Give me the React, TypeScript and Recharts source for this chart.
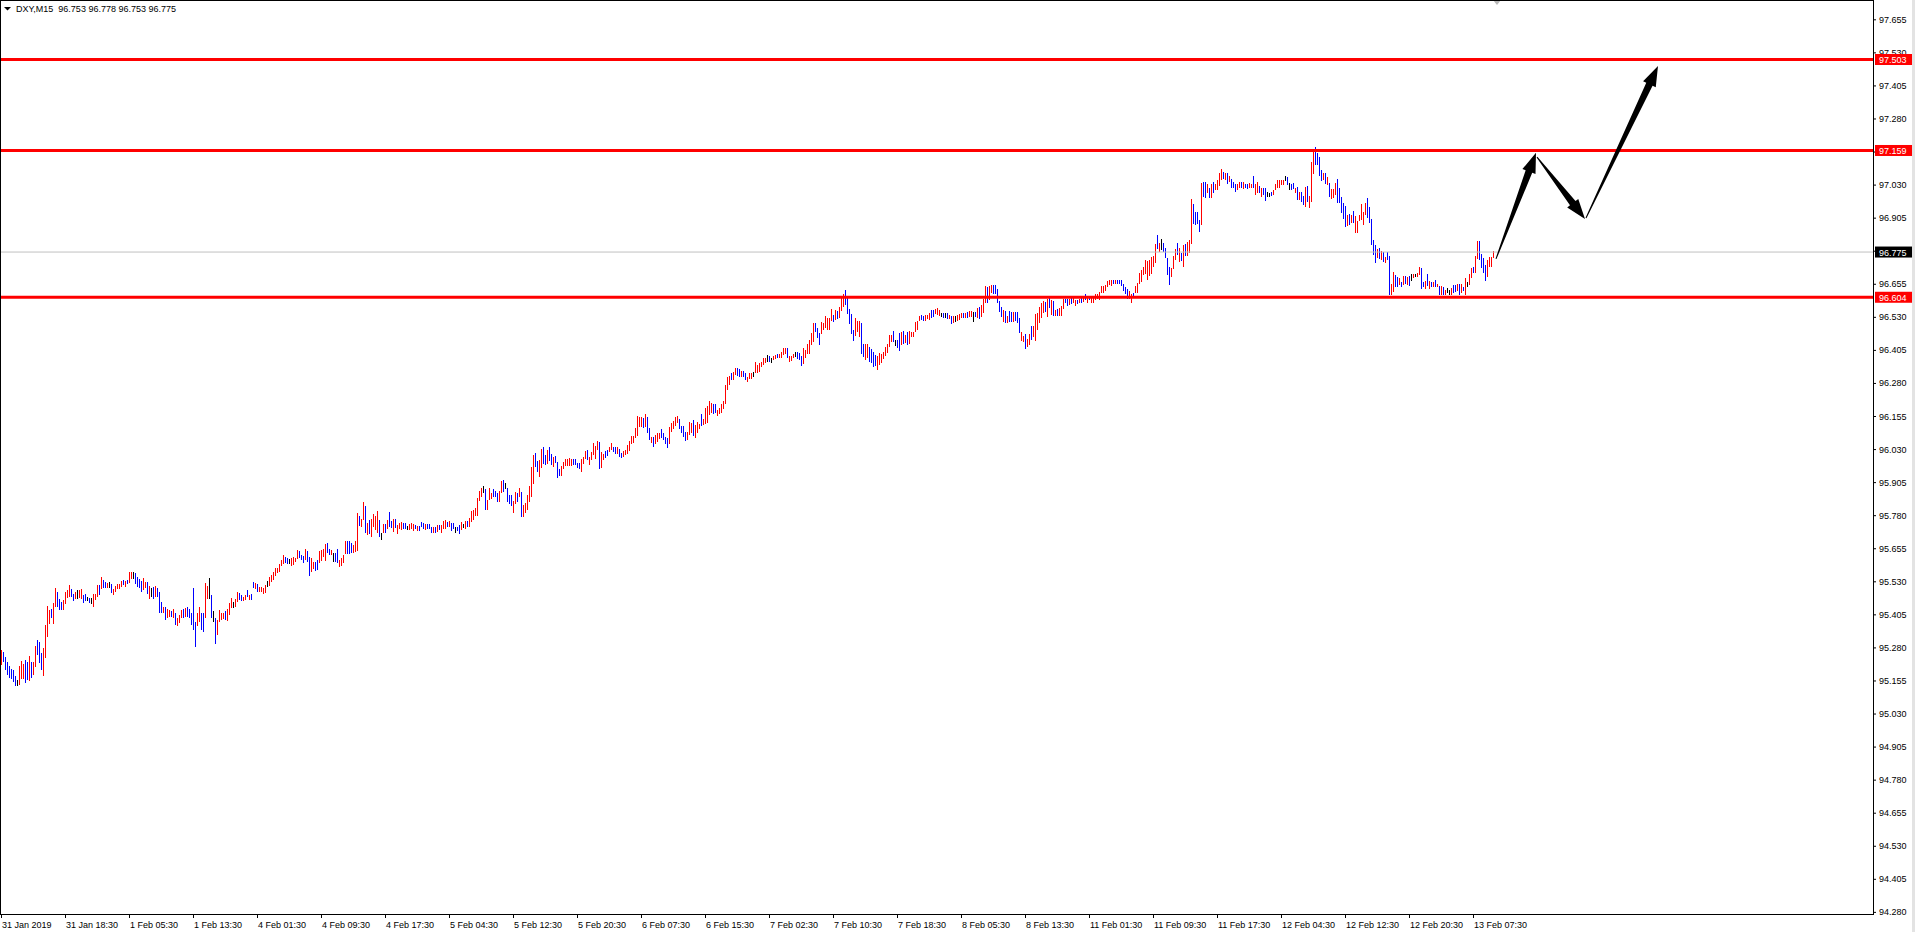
import { Bar, ComposedChart, ReferenceDot, ReferenceLine, XAxis, YAxis } from 'recharts'

// DXY M15, one entry per bar (high / low)
const highs = [
  95.270, 95.263, 95.242, 95.224, 95.210, 95.197, 95.195, 95.172, 95.157, 95.210,
  95.230, 95.217, 95.232, 95.226, 95.248, 95.226, 95.226, 95.285, 95.308, 95.302,
  95.258, 95.277, 95.365, 95.437, 95.421, 95.424, 95.447, 95.505, 95.489, 95.464,
  95.452, 95.459, 95.489, 95.497, 95.516, 95.502, 95.482, 95.488, 95.497, 95.497,
  95.501, 95.478, 95.481, 95.469, 95.466, 95.466, 95.482, 95.482, 95.515, 95.516,
  95.547, 95.535, 95.527, 95.522, 95.526, 95.520, 95.501, 95.512, 95.520, 95.520,
  95.532, 95.535, 95.532, 95.535, 95.565, 95.565, 95.564, 95.560, 95.545, 95.537,
  95.532, 95.544, 95.529, 95.529, 95.512, 95.503, 95.510, 95.512, 95.503, 95.489,
  95.452, 95.434, 95.434, 95.424, 95.421, 95.419, 95.424, 95.409, 95.390, 95.403,
  95.421, 95.426, 95.428, 95.434, 95.424, 95.409, 95.505, 95.377, 95.409, 95.434,
  95.409, 95.409, 95.522, 95.512, 95.542, 95.478, 95.418, 95.390, 95.384, 95.421,
  95.411, 95.409, 95.416, 95.424, 95.447, 95.467, 95.453, 95.462, 95.489, 95.484,
  95.478, 95.472, 95.478, 95.497, 95.478, 95.481, 95.529, 95.525, 95.520, 95.507,
  95.507, 95.505, 95.516, 95.531, 95.545, 95.554, 95.564, 95.580, 95.581, 95.595,
  95.610, 95.628, 95.620, 95.617, 95.614, 95.619, 95.620, 95.619, 95.648, 95.644,
  95.629, 95.626, 95.652, 95.644, 95.623, 95.617, 95.604, 95.604, 95.610, 95.644,
  95.648, 95.652, 95.671, 95.673, 95.654, 95.648, 95.638, 95.636, 95.652, 95.610,
  95.617, 95.629, 95.682, 95.682, 95.682, 95.676, 95.667, 95.683, 95.789, 95.777,
  95.765, 95.831, 95.815, 95.752, 95.762, 95.765, 95.784, 95.777, 95.796, 95.762,
  95.714, 95.746, 95.746, 95.762, 95.793, 95.759, 95.765, 95.765, 95.743, 95.749,
  95.755, 95.749, 95.749, 95.740, 95.745, 95.749, 95.746, 95.743, 95.739, 95.739,
  95.755, 95.751, 95.746, 95.746, 95.746, 95.736, 95.734, 95.734, 95.741, 95.743,
  95.744, 95.759, 95.761, 95.754, 95.759, 95.749, 95.751, 95.736, 95.736, 95.743,
  95.756, 95.746, 95.759, 95.758, 95.769, 95.797, 95.799, 95.806, 95.846, 95.871,
  95.881, 95.890, 95.879, 95.837, 95.881, 95.865, 95.880, 95.872, 95.862, 95.870,
  95.910, 95.913, 95.900, 95.881, 95.856, 95.856, 95.833, 95.867, 95.865, 95.884,
  95.869, 95.819, 95.827, 95.856, 95.891, 95.963, 96.007, 96.016, 95.983, 95.988,
  96.031, 96.039, 96.008, 96.026, 96.039, 96.011, 96.001, 96.003, 95.981, 95.954,
  95.966, 95.981, 95.991, 95.993, 95.995, 95.993, 95.991, 95.993, 95.979, 95.978,
  95.993, 96.001, 96.022, 96.026, 96.001, 96.020, 96.054, 96.042, 96.060, 96.058,
  96.020, 96.011, 96.023, 96.026, 96.039, 96.054, 96.039, 96.039, 96.036, 96.031,
  96.016, 96.022, 96.026, 96.044, 96.061, 96.079, 96.079, 96.108, 96.155, 96.152,
  96.152, 96.148, 96.162, 96.152, 96.108, 96.076, 96.074, 96.084, 96.089, 96.092,
  96.105, 96.092, 96.076, 96.073, 96.114, 96.129, 96.137, 96.150, 96.155, 96.143,
  96.119, 96.117, 96.095, 96.095, 96.133, 96.127, 96.139, 96.121, 96.133, 96.124,
  96.162, 96.142, 96.184, 96.192, 96.212, 96.206, 96.199, 96.199, 96.177, 96.187,
  96.200, 96.211, 96.272, 96.301, 96.306, 96.318, 96.322, 96.335, 96.335, 96.331,
  96.326, 96.326, 96.318, 96.303, 96.316, 96.318, 96.321, 96.359, 96.346, 96.356,
  96.359, 96.374, 96.374, 96.384, 96.381, 96.376, 96.381, 96.385, 96.389, 96.388,
  96.398, 96.413, 96.413, 96.413, 96.381, 96.381, 96.388, 96.396, 96.398, 96.394,
  96.381, 96.414, 96.404, 96.428, 96.444, 96.467, 96.505, 96.505, 96.486, 96.470,
  96.511, 96.508, 96.533, 96.525, 96.526, 96.560, 96.537, 96.555, 96.553, 96.568,
  96.606, 96.616, 96.631, 96.606, 96.560, 96.540, 96.480, 96.525, 96.515, 96.515,
  96.508, 96.429, 96.429, 96.429, 96.417, 96.407, 96.398, 96.385, 96.382, 96.392,
  96.389, 96.398, 96.417, 96.429, 96.461, 96.461, 96.477, 96.444, 96.442, 96.467,
  96.472, 96.477, 96.461, 96.473, 96.476, 96.473, 96.473, 96.511, 96.515, 96.533,
  96.538, 96.535, 96.537, 96.537, 96.543, 96.555, 96.555, 96.559, 96.562, 96.555,
  96.543, 96.543, 96.545, 96.543, 96.537, 96.533, 96.533, 96.533, 96.537, 96.539,
  96.543, 96.543, 96.545, 96.548, 96.553, 96.553, 96.549, 96.549, 96.565, 96.568,
  96.574, 96.599, 96.646, 96.641, 96.646, 96.650, 96.650, 96.650, 96.636, 96.591,
  96.568, 96.555, 96.553, 96.533, 96.553, 96.549, 96.549, 96.549, 96.549, 96.524,
  96.473, 96.457, 96.465, 96.448, 96.465, 96.495, 96.495, 96.540, 96.543, 96.568,
  96.581, 96.588, 96.587, 96.599, 96.603, 96.593, 96.591, 96.555, 96.560, 96.562,
  96.571, 96.596, 96.599, 96.597, 96.597, 96.603, 96.602, 96.593, 96.593, 96.599,
  96.608, 96.603, 96.616, 96.608, 96.606, 96.606, 96.608, 96.615, 96.615, 96.625,
  96.646, 96.646, 96.650, 96.665, 96.669, 96.671, 96.671, 96.669, 96.669, 96.671,
  96.669, 96.654, 96.644, 96.634, 96.628, 96.618, 96.621, 96.646, 96.659, 96.697,
  96.707, 96.717, 96.744, 96.742, 96.744, 96.757, 96.760, 96.805, 96.839, 96.810,
  96.823, 96.810, 96.792, 96.751, 96.717, 96.713, 96.760, 96.787, 96.810, 96.789,
  96.772, 96.801, 96.805, 96.814, 96.820, 96.975, 96.956, 96.927, 96.927, 96.898,
  97.037, 97.041, 97.038, 97.032, 97.016, 97.032, 97.041, 97.034, 97.047, 97.075,
  97.089, 97.079, 97.075, 97.072, 97.063, 97.053, 97.041, 97.034, 97.034, 97.041,
  97.038, 97.041, 97.034, 97.031, 97.037, 97.034, 97.062, 97.034, 97.041, 97.024,
  97.019, 97.019, 97.019, 97.003, 97.000, 97.003, 97.009, 97.034, 97.047, 97.047,
  97.047, 97.047, 97.062, 97.060, 97.037, 97.034, 97.037, 97.019, 97.022, 97.003,
  97.003, 96.987, 97.022, 97.024, 96.987, 97.114, 97.158, 97.173, 97.148, 97.133,
  97.085, 97.072, 97.075, 97.060, 97.037, 97.012, 97.012, 97.037, 97.051, 97.019,
  96.984, 96.959, 96.949, 96.915, 96.919, 96.916, 96.931, 96.911, 96.893, 96.916,
  96.956, 96.926, 96.959, 96.980, 96.944, 96.900, 96.820, 96.801, 96.785, 96.792,
  96.780, 96.775, 96.757, 96.776, 96.760, 96.654, 96.698, 96.688, 96.682, 96.675,
  96.663, 96.684, 96.684, 96.682, 96.684, 96.692, 96.692, 96.692, 96.697, 96.719,
  96.716, 96.663, 96.666, 96.692, 96.666, 96.663, 96.663, 96.669, 96.656, 96.648,
  96.646, 96.644, 96.631, 96.638, 96.631, 96.638, 96.650, 96.650, 96.654, 96.654,
  96.654, 96.644, 96.675, 96.663, 96.692, 96.713, 96.717, 96.760, 96.816, 96.816,
  96.767, 96.751, 96.726, 96.745, 96.757, 96.755, 96.778,
]

const lows = [
  95.214, 95.226, 95.195, 95.176, 95.163, 95.159, 95.150, 95.134, 95.134, 95.138,
  95.159, 95.162, 95.147, 95.157, 95.154, 95.163, 95.176, 95.205, 95.251, 95.220,
  95.195, 95.172, 95.239, 95.321, 95.369, 95.390, 95.369, 95.434, 95.434, 95.421,
  95.421, 95.421, 95.444, 95.466, 95.472, 95.472, 95.455, 95.462, 95.462, 95.466,
  95.462, 95.447, 95.454, 95.457, 95.449, 95.443, 95.434, 95.459, 95.469, 95.478,
  95.500, 95.503, 95.503, 95.503, 95.506, 95.484, 95.478, 95.491, 95.500, 95.502,
  95.510, 95.516, 95.510, 95.520, 95.525, 95.537, 95.537, 95.520, 95.510, 95.503,
  95.491, 95.497, 95.503, 95.482, 95.462, 95.472, 95.462, 95.472, 95.472, 95.409,
  95.409, 95.409, 95.384, 95.393, 95.396, 95.394, 95.393, 95.365, 95.361, 95.371,
  95.390, 95.393, 95.396, 95.396, 95.390, 95.365, 95.346, 95.283, 95.361, 95.377,
  95.346, 95.340, 95.390, 95.462, 95.462, 95.390, 95.377, 95.293, 95.327, 95.377,
  95.384, 95.387, 95.384, 95.380, 95.403, 95.428, 95.430, 95.434, 95.453, 95.459,
  95.457, 95.455, 95.459, 95.472, 95.459, 95.459, 95.503, 95.501, 95.491, 95.491,
  95.491, 95.481, 95.484, 95.510, 95.512, 95.529, 95.535, 95.550, 95.563, 95.566,
  95.588, 95.594, 95.598, 95.595, 95.595, 95.588, 95.591, 95.604, 95.613, 95.617,
  95.610, 95.600, 95.610, 95.604, 95.550, 95.566, 95.575, 95.570, 95.573, 95.600,
  95.608, 95.623, 95.608, 95.636, 95.629, 95.629, 95.604, 95.604, 95.600, 95.585,
  95.588, 95.598, 95.633, 95.633, 95.633, 95.636, 95.636, 95.642, 95.646, 95.739,
  95.736, 95.762, 95.714, 95.705, 95.709, 95.699, 95.734, 95.724, 95.711, 95.699,
  95.686, 95.711, 95.714, 95.726, 95.736, 95.730, 95.718, 95.730, 95.709, 95.726,
  95.724, 95.726, 95.726, 95.724, 95.724, 95.726, 95.721, 95.726, 95.721, 95.721,
  95.736, 95.726, 95.724, 95.729, 95.726, 95.714, 95.714, 95.714, 95.717, 95.724,
  95.714, 95.726, 95.729, 95.736, 95.734, 95.721, 95.726, 95.714, 95.721, 95.709,
  95.724, 95.730, 95.726, 95.736, 95.736, 95.756, 95.761, 95.777, 95.777, 95.832,
  95.850, 95.862, 95.799, 95.799, 95.837, 95.840, 95.850, 95.847, 95.831, 95.831,
  95.865, 95.867, 95.879, 95.831, 95.824, 95.814, 95.787, 95.824, 95.831, 95.850,
  95.773, 95.773, 95.787, 95.799, 95.831, 95.850, 95.898, 95.963, 95.942, 95.923,
  95.960, 95.973, 95.969, 95.973, 95.986, 95.969, 95.963, 95.976, 95.920, 95.928,
  95.928, 95.953, 95.967, 95.967, 95.967, 95.967, 95.969, 95.971, 95.957, 95.955,
  95.943, 95.973, 95.991, 95.988, 95.969, 95.988, 96.007, 95.991, 96.026, 95.954,
  95.958, 95.988, 95.998, 96.003, 96.018, 96.026, 96.018, 96.013, 96.011, 96.001,
  95.998, 96.001, 96.007, 96.013, 96.023, 96.049, 96.054, 96.070, 96.079, 96.114,
  96.114, 96.110, 96.114, 96.092, 96.066, 96.054, 96.039, 96.049, 96.058, 96.068,
  96.070, 96.066, 96.049, 96.034, 96.049, 96.095, 96.104, 96.117, 96.129, 96.104,
  96.092, 96.076, 96.061, 96.066, 96.083, 96.089, 96.079, 96.071, 96.089, 96.104,
  96.117, 96.121, 96.124, 96.127, 96.160, 96.165, 96.161, 96.165, 96.155, 96.162,
  96.165, 96.183, 96.202, 96.255, 96.272, 96.291, 96.293, 96.310, 96.306, 96.303,
  96.301, 96.301, 96.291, 96.284, 96.294, 96.294, 96.301, 96.316, 96.316, 96.322,
  96.341, 96.346, 96.354, 96.359, 96.359, 96.356, 96.366, 96.369, 96.373, 96.376,
  96.376, 96.386, 96.391, 96.374, 96.359, 96.364, 96.373, 96.379, 96.369, 96.366,
  96.344, 96.351, 96.376, 96.391, 96.389, 96.423, 96.436, 96.472, 96.449, 96.423,
  96.465, 96.480, 96.486, 96.480, 96.480, 96.515, 96.511, 96.518, 96.520, 96.524,
  96.553, 96.568, 96.574, 96.540, 96.502, 96.465, 96.439, 96.457, 96.473, 96.455,
  96.389, 96.379, 96.366, 96.373, 96.360, 96.354, 96.341, 96.344, 96.329, 96.348,
  96.354, 96.369, 96.382, 96.392, 96.417, 96.436, 96.436, 96.419, 96.412, 96.402,
  96.423, 96.427, 96.432, 96.423, 96.429, 96.455, 96.452, 96.473, 96.482, 96.515,
  96.518, 96.514, 96.513, 96.520, 96.518, 96.524, 96.530, 96.539, 96.538, 96.533,
  96.530, 96.524, 96.526, 96.520, 96.520, 96.502, 96.505, 96.511, 96.515, 96.518,
  96.525, 96.524, 96.524, 96.526, 96.530, 96.528, 96.511, 96.530, 96.524, 96.520,
  96.530, 96.545, 96.581, 96.583, 96.593, 96.621, 96.618, 96.618, 96.581, 96.549,
  96.530, 96.511, 96.505, 96.505, 96.511, 96.511, 96.511, 96.515, 96.508, 96.470,
  96.439, 96.436, 96.410, 96.417, 96.423, 96.442, 96.455, 96.439, 96.480, 96.505,
  96.524, 96.543, 96.549, 96.530, 96.565, 96.537, 96.533, 96.533, 96.533, 96.533,
  96.535, 96.558, 96.581, 96.571, 96.574, 96.578, 96.581, 96.571, 96.578, 96.581,
  96.583, 96.587, 96.593, 96.581, 96.593, 96.581, 96.581, 96.593, 96.596, 96.593,
  96.621, 96.621, 96.628, 96.641, 96.650, 96.646, 96.656, 96.654, 96.654, 96.656,
  96.646, 96.628, 96.616, 96.599, 96.596, 96.583, 96.608, 96.621, 96.621, 96.656,
  96.663, 96.688, 96.691, 96.669, 96.684, 96.691, 96.717, 96.734, 96.785, 96.776,
  96.782, 96.776, 96.751, 96.688, 96.650, 96.679, 96.709, 96.744, 96.763, 96.738,
  96.742, 96.719, 96.760, 96.760, 96.770, 96.805, 96.880, 96.877, 96.880, 96.852,
  96.877, 96.984, 96.980, 96.999, 96.980, 96.980, 96.997, 97.009, 97.009, 97.024,
  97.047, 97.050, 97.047, 97.032, 97.041, 97.018, 97.016, 97.003, 97.009, 97.019,
  97.016, 97.012, 97.016, 97.014, 97.019, 97.016, 97.019, 96.990, 96.997, 96.997,
  96.984, 96.990, 96.969, 96.984, 96.984, 96.988, 96.990, 97.009, 97.016, 97.019,
  97.028, 97.028, 97.044, 97.028, 97.009, 97.009, 97.012, 96.997, 96.971, 96.971,
  96.965, 96.952, 96.946, 96.965, 96.942, 96.965, 97.070, 97.104, 97.104, 97.062,
  97.044, 97.047, 97.034, 97.028, 96.984, 96.975, 96.978, 96.990, 96.959, 96.959,
  96.924, 96.901, 96.871, 96.873, 96.877, 96.883, 96.886, 96.848, 96.848, 96.893,
  96.896, 96.877, 96.915, 96.902, 96.883, 96.801, 96.763, 96.735, 96.751, 96.747,
  96.745, 96.738, 96.735, 96.745, 96.612, 96.612, 96.625, 96.644, 96.644, 96.650,
  96.641, 96.650, 96.656, 96.650, 96.646, 96.666, 96.675, 96.679, 96.682, 96.688,
  96.636, 96.644, 96.634, 96.646, 96.637, 96.644, 96.641, 96.644, 96.641, 96.612,
  96.612, 96.612, 96.612, 96.619, 96.612, 96.612, 96.619, 96.625, 96.629, 96.612,
  96.619, 96.629, 96.612, 96.641, 96.650, 96.675, 96.697, 96.697, 96.747, 96.745,
  96.713, 96.697, 96.666, 96.682, 96.717, 96.719, 96.753,
]

// u = bull bar (red), d = bear bar (blue), n = unchanged (black)
const dirs = [
  'udddddddnu', 'uudduduudd', 'duuuuduudd', 'duuuuddunu', 'uddndnuuud',
  'uddunduuuu', 'ududuunddd', 'duudundudd', 'duduududuu', 'ududdddduu',
  'dduundnduu', 'uuduuunuud', 'duududdudu', 'uuunuuuuuu', 'uuddnuuuud',
  'ddudduuddu', 'uuuddunddu', 'uuuddduuud', 'uududuuuud', 'nududduduu',
  'uddnuuudud', 'ddudddudud', 'uuududdndd', 'unuduuuuuu', 'unduuudddu',
  'udnddduudu', 'duuuuuuddu', 'uddudduddd', 'uuuuuudddd', 'uuuduuuuud',
  'uudduuddud', 'duuuuuuuuu', 'ududduduuu', 'dddduuuuud', 'ddduuuduuu',
  'duuuuudduu', 'uuuuuduudd', 'udduuunuuu', 'uuundnuudu', 'uuuduuundd',
  'duuuuuuddd', 'uuuuuududu', 'uuddddduuu', 'dduudddduu', 'uuuuuudndd',
  'ududuuuuuu', 'dduuudduuu', 'ndndudunuu', 'ududuundud', 'uuuduudddd',
  'dududduddd', 'uuduuduuuu', 'uududududu', 'uudduduudu', 'dududuuuuu',
  'uuuuuududd', 'dddduuduuu', 'uuuuuuuudu', 'ndddduuudu', 'duduuudddd',
  'uddududuuu', 'udududdduu', 'dudduuduud', 'uddnnduuuu', 'uundnddudu',
  'dduduuuddd', 'dududuuudd', 'dddududuuu', 'uuudddddud', 'ududduuddu',
  'dududnunuu', 'ddudududud', 'udunnuddud', 'udunuuduud', 'ddduuuu',
].join('').split('')

const timeLabels = [
  '31 Jan 2019', '31 Jan 18:30', '1 Feb 05:30', '1 Feb 13:30', '4 Feb 01:30', '4 Feb 09:30',
  '4 Feb 17:30', '5 Feb 04:30', '5 Feb 12:30', '5 Feb 20:30', '6 Feb 07:30', '6 Feb 15:30',
  '7 Feb 02:30', '7 Feb 10:30', '7 Feb 18:30', '8 Feb 05:30', '8 Feb 13:30', '11 Feb 01:30',
  '11 Feb 09:30', '11 Feb 17:30', '12 Feb 04:30', '12 Feb 12:30', '12 Feb 20:30', '13 Feb 07:30',
]
const barsPerLabel = 32

const priceTicks = [
  94.28, 94.405, 94.53, 94.655, 94.78, 94.905, 95.03, 95.155, 95.28, 95.405,
  95.53, 95.655, 95.78, 95.905, 96.03, 96.155, 96.28, 96.405, 96.53, 96.655,
  96.78, 96.905, 97.03, 97.155, 97.28, 97.405, 97.53, 97.655,
]

const levels = [97.503, 97.159, 96.604]
const lastPrice = 96.775
const quote = ['96.753', '96.778', '96.753', '96.775']

// drawn forecast arrows: [bar, price] -> [bar, price]
const arrows = [
  [[747.5, 96.749], [767.5, 97.15]],
  [[768, 97.134], [792, 96.9]],
  [[792.5, 96.904], [828.5, 97.478]],
]

const data = highs.map((h, i) => ({ i, range: [lows[i], h], dir: dirs[i] }))

const W = 1915
const H = 932
const AXIS_W = 42
const AXIS_H = 18
const FONT = '"Liberation Sans", Arial, sans-serif'
const colors: Record<string, string> = { u: '#ff0000', d: '#0000ff', n: '#000000' }

function OhlcBar(props: any) {
  const { x, y, width, height, payload } = props
  const cx = Math.round(x + width / 2)
  const top = Math.round(y)
  const bottom = Math.round(y + height)
  return <rect x={cx} y={top} width={1} height={Math.max(1, bottom - top)} fill={colors[payload.dir] || '#000'} />
}

// price scale: plain ticks first, then the coloured price tags drawn over them
function PriceTick(props: any) {
  const { x, y, payload } = props
  const v = Number(payload.value)
  const isLevel = levels.includes(v)
  const isLast = v === lastPrice
  if (isLevel || isLast) {
    return (
      <g>
        <rect x={x + 2} y={y - 5.5} width={37} height={11} fill={isLast ? '#000' : '#ff0000'} />
        <text x={x + 6} y={y + 3.5} fontSize={9} fontFamily={FONT} fill="#fff">
          {v.toFixed(3)}
        </text>
      </g>
    )
  }
  return (
    <g>
      <line x1={x} x2={x + 3} y1={y + 0.5} y2={y + 0.5} stroke="#000" />
      <text x={x + 6} y={y + 3.5} fontSize={9} fontFamily={FONT} fill="#000">
        {v.toFixed(3)}
      </text>
    </g>
  )
}

function TimeTick(props: any) {
  const { x, y, payload } = props
  const label = timeLabels[Math.round(payload.value / barsPerLabel)]
  return (
    <g>
      <line x1={x + 0.5} x2={x + 0.5} y1={y} y2={y + 4} stroke="#000" />
      <text x={x + 1} y={y + 14} fontSize={9} fontFamily={FONT} fill="#000">
        {label}
      </text>
    </g>
  )
}

function Arrow(props: any) {
  const { x1, y1, x2, y2 } = props
  const dx = x2 - x1
  const dy = y2 - y1
  const len = Math.hypot(dx, dy)
  const ux = dx / len
  const uy = dy / len
  const nx = -uy
  const ny = ux
  const head = 20
  const bx = x2 - ux * head
  const by = y2 - uy * head
  const pts = [
    [x1 + nx * 0.5, y1 + ny * 0.5],
    [bx + nx * 3.5, by + ny * 3.5],
    [bx + nx * 7, by + ny * 7],
    [x2, y2],
    [bx - nx * 7, by - ny * 7],
    [bx - nx * 3.5, by - ny * 3.5],
    [x1 - nx * 0.5, y1 - ny * 0.5],
  ]
  return <polygon points={pts.map((p) => p.join(',')).join(' ')} fill="#000" />
}

function ShiftMarker(props: any) {
  const { cx, cy } = props
  return <polygon points={`${cx - 4},${cy} ${cx + 4},${cy} ${cx},${cy + 5}`} fill="#b8b8b8" />
}

export default function App() {
  return (
    <div style={{ position: 'absolute', left: 0, top: 0, width: W, height: H, background: '#fff' }}>
      <ComposedChart width={W} height={H} data={data} margin={{ top: 0, right: 0, bottom: 0, left: 0 }}>
        <XAxis
          dataKey="i"
          type="number"
          domain={[-0.5, 936]}
          allowDataOverflow
          ticks={timeLabels.map((_, k) => k * barsPerLabel)}
          interval={0}
          height={AXIS_H}
          axisLine={false}
          tickLine={false}
          tickSize={0}
          tickMargin={0}
          tick={<TimeTick />}
        />
        <YAxis
          orientation="right"
          type="number"
          domain={[94.272, 97.728]}
          allowDataOverflow
          ticks={[...priceTicks, lastPrice, ...levels]}
          interval={0}
          width={AXIS_W}
          axisLine={false}
          tickLine={false}
          tickSize={0}
          tickMargin={0}
          tick={<PriceTick />}
        />
        <Bar dataKey="range" barSize={2} shape={<OhlcBar />} isAnimationActive={false} />
        <ReferenceLine y={lastPrice} stroke="#c0c0c0" strokeWidth={1} />
        {levels.map((lv) => (
          <ReferenceLine key={lv} y={lv} stroke="#ff0000" strokeWidth={3} />
        ))}
        {arrows.map((a, k) => (
          <ReferenceLine
            key={k}
            segment={[
              { x: a[0][0], y: a[0][1] },
              { x: a[1][0], y: a[1][1] },
            ]}
            ifOverflow="visible"
            shape={Arrow}
          />
        ))}
        <ReferenceDot x={748} y={97.728} ifOverflow="visible" shape={ShiftMarker} />
      </ComposedChart>
      <svg
        width={W}
        height={H}
        style={{ position: 'absolute', left: 0, top: 0, pointerEvents: 'none' }}
      >
        <rect x={0.5} y={0.5} width={W - AXIS_W} height={H - AXIS_H} fill="none" stroke="#000" />
        <rect x={W - 3} y={0} width={3} height={H} fill="#e3e3e3" />
        <polygon points="4,7 11,7 7.5,10.5" fill="#000" />
        <text x={16} y={12} fontSize={9} fontFamily={FONT} fill="#000" style={{ whiteSpace: 'pre' }}>
          {`DXY,M15  ${quote.join(' ')}`}
        </text>
      </svg>
    </div>
  )
}
